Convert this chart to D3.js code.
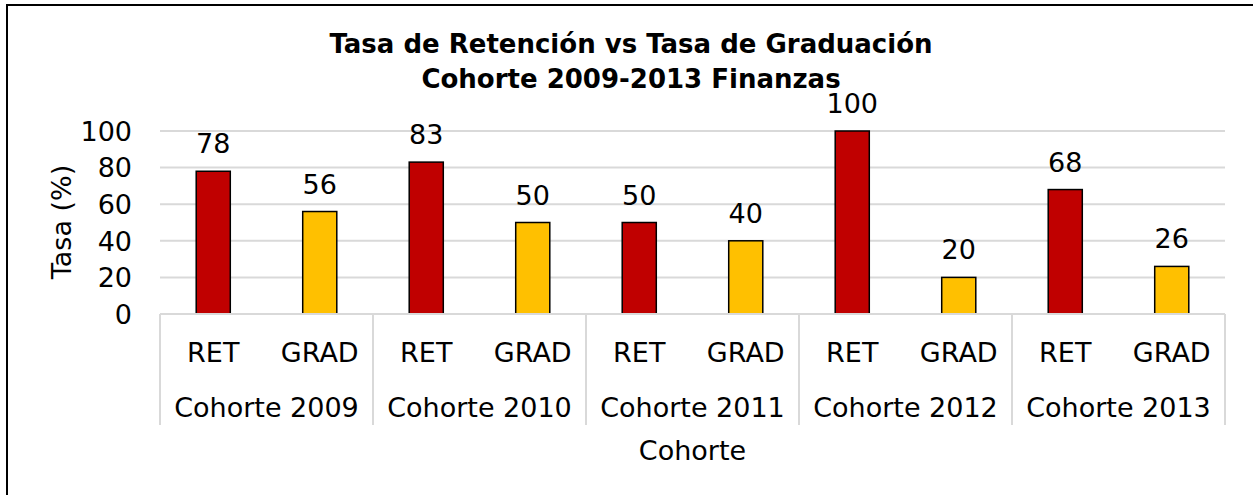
<!DOCTYPE html>
<html>
<head>
<meta charset="utf-8">
<script src="https://cdn.jsdelivr.net/npm/d3@7"></script>
<style>
  body { margin: 0; background: #fff; }
  svg { display: block; font-family: "DejaVu Sans", sans-serif; }
</style>
</head>
<body>
<svg id="chart" width="1253" height="495"></svg>
<script>
// data
const cohorts = ["Cohorte 2009", "Cohorte 2010", "Cohorte 2011", "Cohorte 2012", "Cohorte 2013"];
const measures = ["RET", "GRAD"];
const retValues = [78, 83, 50, 100, 68];
const gradValues = [56, 50, 40, 20, 26];
const yTicks = [0, 20, 40, 60, 80, 100];

const colors = { RET: "#C00000", GRAD: "#FFC000" };

const svg = d3.select("#chart");
const margin = { left: 160, right: 28, top: 131, bottom: 181 };
const width = 1253, height = 495;
const baseY = height - margin.bottom;
const fs = "27px";

// outer frame (right/bottom edges fall outside the picture)
svg.append("rect")
  .attr("x", 7).attr("y", 5)
  .attr("width", 1260).attr("height", 500)
  .attr("fill", "none")
  .attr("stroke", "#000")
  .attr("stroke-width", 2);

const x0 = d3.scaleBand()
  .domain(cohorts)
  .range([margin.left, width - margin.right]);

const x1 = d3.scaleBand()
  .domain(measures)
  .range([0, x0.bandwidth()])
  .paddingInner(0.68)
  .paddingOuter(0.34);

const y = d3.scaleLinear()
  .domain([0, 100])
  .range([baseY, margin.top]);

// gridlines
svg.append("g")
  .selectAll("line")
  .data(yTicks.filter((d) => d > 0))
  .enter()
  .append("line")
  .attr("x1", margin.left)
  .attr("x2", width - margin.right)
  .attr("y1", (d) => y(d))
  .attr("y2", (d) => y(d))
  .attr("stroke", "#d9d9d9")
  .attr("stroke-width", 2);

// y tick labels
svg.append("g")
  .selectAll("text")
  .data(yTicks)
  .enter()
  .append("text")
  .attr("x", 132)
  .attr("y", (d) => y(d))
  .attr("dy", "0.36em")
  .attr("text-anchor", "end")
  .style("font-size", fs)
  .style("fill", "#000")
  .text((d) => d);

// bars
const rows = cohorts.map((c, i) => [
  { cohort: c, key: "RET", value: retValues[i] },
  { cohort: c, key: "GRAD", value: gradValues[i] },
]).flat();

svg.append("g")
  .selectAll("rect")
  .data(rows)
  .enter()
  .append("rect")
  .attr("x", (d) => x0(d.cohort) + x1(d.key))
  .attr("y", (d) => y(d.value))
  .attr("width", x1.bandwidth())
  .attr("height", (d) => baseY - y(d.value))
  .attr("fill", (d) => colors[d.key])
  .attr("stroke", "#000")
  .attr("stroke-width", 1.5);

// value labels
svg.append("g")
  .selectAll("text")
  .data(rows)
  .enter()
  .append("text")
  .attr("x", (d) => x0(d.cohort) + x1(d.key) + x1.bandwidth() / 2)
  .attr("y", (d) => y(d.value) - 18)
  .attr("text-anchor", "middle")
  .style("font-size", fs)
  .text((d) => d.value);

// category axis: baseline + group separators
svg.append("line")
  .attr("x1", margin.left).attr("x2", width - margin.right)
  .attr("y1", baseY).attr("y2", baseY)
  .attr("stroke", "#d9d9d9").attr("stroke-width", 2);

const seps = cohorts.map((c) => x0(c)).concat([x0.range()[1]]);
svg.append("g")
  .selectAll("line")
  .data(seps)
  .enter()
  .append("line")
  .attr("x1", (d) => d).attr("x2", (d) => d)
  .attr("y1", baseY).attr("y2", 425)
  .attr("stroke", "#d9d9d9").attr("stroke-width", 2);

svg.append("g")
  .selectAll("text")
  .data(rows)
  .enter()
  .append("text")
  .attr("x", (d) => x0(d.cohort) + x1(d.key) + x1.bandwidth() / 2)
  .attr("y", 362)
  .attr("text-anchor", "middle")
  .style("font-size", fs)
  .text((d) => d.key);

svg.append("g")
  .selectAll("text")
  .data(cohorts)
  .enter()
  .append("text")
  .attr("x", (d) => x0(d) + x0.bandwidth() / 2)
  .attr("y", 417)
  .attr("text-anchor", "middle")
  .style("font-size", fs)
  .text((d) => d);

// axis titles
svg.append("text")
  .attr("x", (margin.left + width - margin.right) / 2)
  .attr("y", 460)
  .attr("text-anchor", "middle")
  .style("font-size", fs)
  .text("Cohorte");

svg.append("text")
  .attr("transform", "translate(71,222) rotate(-90)")
  .attr("text-anchor", "middle")
  .style("font-size", fs)
  .text("Tasa (%)");

// title
const title = svg.append("text")
  .attr("text-anchor", "middle")
  .style("font-size", "26px")
  .style("font-weight", "bold");
title.append("tspan").attr("x", 631).attr("y", 53)
  .text("Tasa de Retención vs Tasa de Graduación");
title.append("tspan").attr("x", 631).attr("y", 88)
  .text("Cohorte 2009-2013 Finanzas");
</script>
</body>
</html>
